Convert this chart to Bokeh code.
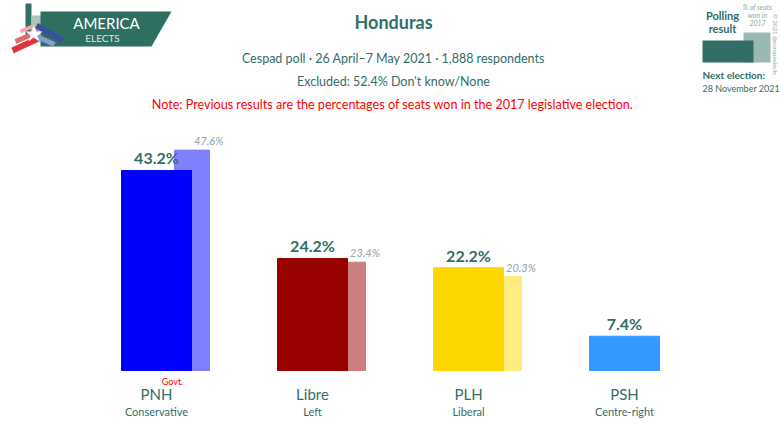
from bokeh.plotting import figure
from bokeh.models import Range1d, ColumnDataSource
from bokeh.core.properties import value
from bokeh.embed import file_html
from bokeh.resources import INLINE
import math

# ---- data ----
parties = ["PNH", "Libre", "PLH", "PSH"]
groups = ["Conservative", "Left", "Liberal", "Centre-right"]
poll = [43.2, 24.2, 22.2, 7.4]
prev = [47.6, 23.4, 20.3, None]
main_colors = ["#0000FF", "#990000", "#FFD700", "#3399FF"]
prev_colors = ["#8080FF", "#CC7F7F", "#FFEB80", None]

W, H = 780, 424
PXU_X = 156.0          # px per category
PXU_Y = 4.63           # px per percentage point
X0 = 156.0             # canvas x of first category centre
BASE = 54.0            # baseline px from bottom

xr = Range1d(-X0 / PXU_X, (W - X0) / PXU_X)
yr = Range1d(-BASE / PXU_Y, (H - BASE) / PXU_Y)

p = figure(width=W, height=H, x_range=xr, y_range=yr, output_backend="svg",
           toolbar_location=None, min_border=0, border_fill_color="white",
           background_fill_color="white", outline_line_color=None)
p.axis.visible = False
p.grid.visible = False

# helpers for decoration positions given in image pixels
def dx(ix):
    return (ix - X0) / PXU_X

def dy(iy):
    return yr.start + (H - iy) / PXU_Y

FONT = value("Lato")
TEAL = "#336E68"

# ---- bars ----
idx = list(range(len(parties)))
off = 35.5 / PXU_X
pv_x = [i + off for i in idx if prev[i] is not None]
pv_y = [prev[i] for i in idx if prev[i] is not None]
pv_c = [prev_colors[i] for i in idx if prev[i] is not None]
src_prev = ColumnDataSource(dict(x=pv_x, top=pv_y, color=pv_c,
                                 label=[f"{v:.1f}%" for v in pv_y]))
src_main = ColumnDataSource(dict(x=idx, top=poll, color=main_colors,
                                 label=[f"{v:.1f}%" for v in poll],
                                 party=parties, group=groups))

p.vbar(x="x", top="top", bottom=0, width=35 / PXU_X, color="color", source=src_prev)
p.vbar(x="x", top="top", bottom=0, width=70 / PXU_X, color="color", source=src_main)

p.text(x="x", y="top", text="label", source=src_main, text_align="center",
       text_baseline="bottom", y_offset=-3, text_font=FONT, text_font_style="bold",
       text_font_size="16px", text_color=TEAL)
p.text(x="x", y="top", text="label", source=src_prev, text_align="left",
       text_baseline="bottom", x_offset=2, y_offset=-3, text_font=FONT,
       text_font_style="italic", text_font_size="11px", text_color="#8FA6A2")
p.text(x="x", y=0, text="party", source=src_main, text_align="center",
       text_baseline="middle", y_offset=23, text_font=FONT,
       text_font_size="15px", text_color=TEAL)
p.text(x="x", y=0, text="group", source=src_main, text_align="center",
       text_baseline="middle", y_offset=41, text_font=FONT,
       text_font_size="11px", text_color=TEAL)
p.text(x=[0], y=[0], text=["Govt."], text_align="center", text_baseline="middle",
       x_offset=16, y_offset=11, text_font=FONT, text_font_size="9px",
       text_color="#FF0000")

# ---- header texts ----
cx = dx(393)
p.text(x=[cx], y=[dy(21)], text=["Honduras"], text_align="center",
       text_baseline="middle", text_font=FONT, text_font_style="bold",
       text_font_size="18px", text_color="#2F706A")
p.text(x=[cx], y=[dy(58)], text=["Cespad poll · 26 April–7 May 2021 · 1,888 respondents"],
       text_align="center", text_baseline="middle", text_font=FONT,
       text_font_size="12.5px", text_color=TEAL)
p.text(x=[cx], y=[dy(81)], text=["Excluded: 52.4% Don't know/None"],
       text_align="center", text_baseline="middle", text_font=FONT,
       text_font_size="12.5px", text_color=TEAL)
p.text(x=[dx(392)], y=[dy(104)],
       text=["Note: Previous results are the percentages of seats won in the 2017 legislative election."],
       text_align="center", text_baseline="middle", text_font=FONT,
       text_font_size="12.6px", text_color="#FF0000")

# ---- logo ----
def poly(pts, color, alpha=1.0):
    p.patch([dx(a) for a, b in pts], [dy(b) for a, b in pts], color=color,
            line_color=None, fill_alpha=alpha)

def bar(x1, y1, x2, y2, t, color):
    ang = math.atan2(y2 - y1, x2 - x1)
    nx, ny = -math.sin(ang) * t / 2, math.cos(ang) * t / 2
    poly([(x1 + nx, y1 + ny), (x2 + nx, y2 + ny), (x2 - nx, y2 - ny), (x1 - nx, y1 - ny)], color)

poly([(25, 3), (31, 3), (31, 34), (25, 34)], "#2F6F62")
poly([(31, 15), (44, 15), (44, 34), (31, 34)], "#AFC4BF")
poly([(40, 11), (171, 11), (151, 46), (40, 46)], "#2F6F62")
bar(12, 50, 40, 37, 6, "#D9363E")
bar(15, 41, 38, 31, 5, "#E06A6E")
bar(20, 31, 34, 25, 4, "#F2A7A8")
bar(36, 25, 62, 40, 6, "#3750A0")
bar(34, 35, 54, 44, 5, "#8A9CCB")
poly([(33, 25), (36, 31), (42, 31), (37, 35), (39, 41), (33, 37), (28, 41), (30, 35), (25, 31), (31, 31)], "white")
p.text(x=[dx(106)], y=[dy(22)], text=["AMERICA"], text_align="center",
       text_baseline="middle", text_font=FONT, text_font_size="15px",
       text_color="white")
p.text(x=[dx(102)], y=[dy(37)], text=["ELECTS"], text_align="center",
       text_baseline="middle", text_font=FONT, text_font_size="10px",
       text_color="#DDE8E5")

# ---- legend box top right ----
poly([(743, 32), (770, 32), (770, 62), (743, 62)], "#9AB8B2")
poly([(702, 40), (753, 40), (753, 62), (702, 62)], "#336E66")
p.text(x=[dx(722)] * 2, y=[dy(15), dy(28)], text=["Polling", "result"],
       text_align="center", text_baseline="middle", text_font=FONT,
       text_font_style="bold", text_font_size="11px", text_color=TEAL)
p.text(x=[dx(757)] * 3, y=[dy(6), dy(14), dy(22)], text=["% of seats", "won in", "2017"],
       text_align="center", text_baseline="middle", text_font=FONT,
       text_font_style="italic", text_font_size="7px", text_color="#8FA6A2")
p.text(x=[dx(702)], y=[dy(74)], text=["Next election:"], text_align="left",
       text_baseline="middle", text_font=FONT, text_font_style="bold",
       text_font_size="10px", text_color=TEAL)
p.text(x=[dx(702)], y=[dy(88)], text=["28 November 2021"], text_align="left",
       text_baseline="middle", text_font=FONT, text_font_size="9px",
       text_color=TEAL)
p.text(x=[dx(775)], y=[dy(44)], text=["© 2021 @europeelects"], angle=-math.pi / 2,
       text_align="center", text_baseline="middle", text_font=FONT,
       text_font_size="6px", text_color="#8FA6A2")

open("out.html", "w").write(file_html(p, INLINE))
